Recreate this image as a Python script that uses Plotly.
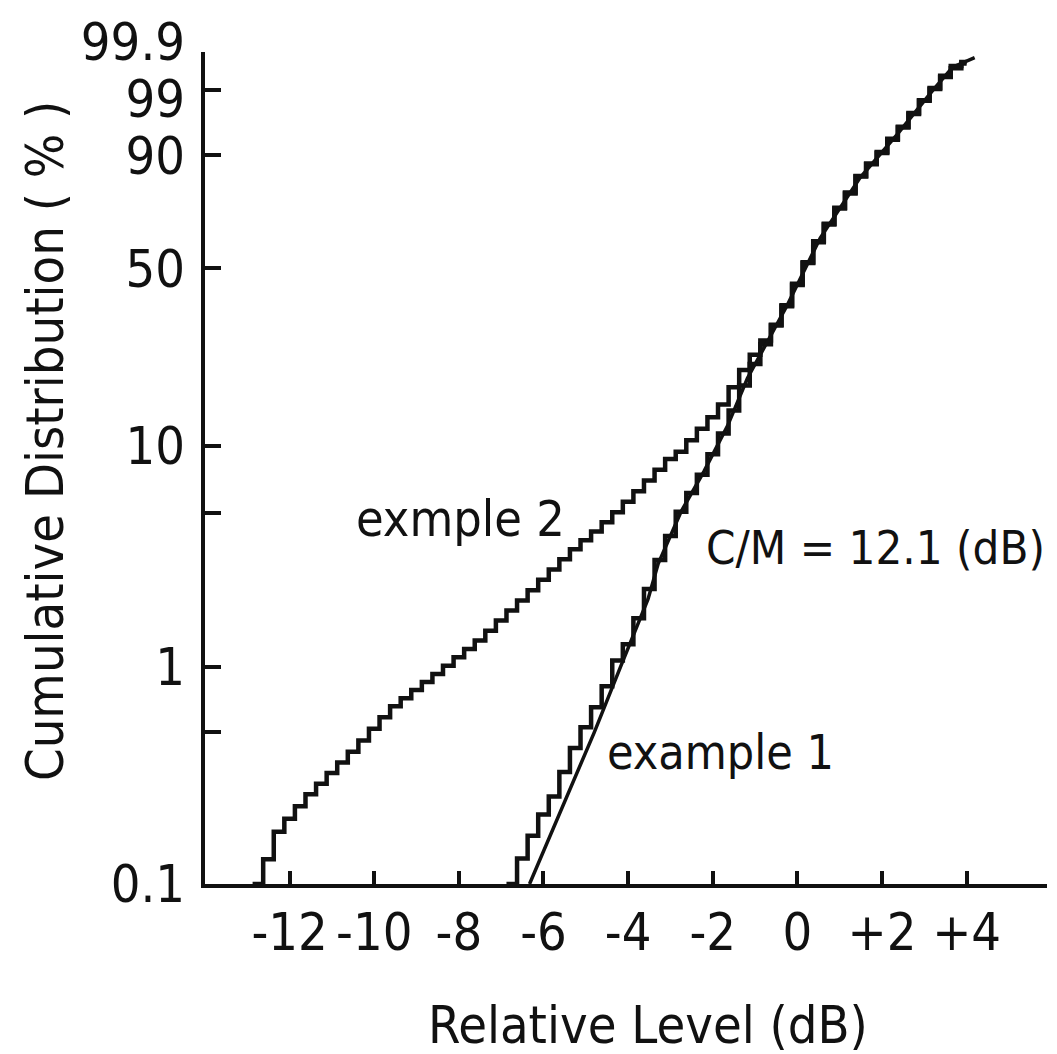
import numpy as np
import plotly.graph_objects as go

# ---------------- data ----------------
x_tick_db = [-12, -10, -8, -6, -4, -2, 0, 2, 4]
x_tick_text = ["-12", "-10", "-8", "-6", "-4", "-2", "0", "+2", "+4"]
y_tick_pct = [0.5, 1, 5, 10, 50, 90, 99, 99.9]
y_label_pct = [0.1, 1, 10, 50, 90, 99, 99.9]
y_label_text = ["0.1", "1", "10", "50", "90", "99", "99.9"]

# example 1 : measured histogram steps (0.25 dB bins) - level where each step rises, cum. % after the rise
ex1_rise_db = [-6.625, -6.375, -6.125, -5.875, -5.625, -5.375, -5.125, -4.875, -4.625, -4.375,
               -4.125, -3.875, -3.625, -3.375, -3.125, -2.875, -2.625, -2.375, -2.125, -1.875,
               -1.625, -1.375, -1.125, -0.875, -0.625, -0.375, -0.125, 0.125, 0.375, 0.625,
               0.875, 1.125, 1.375, 1.625, 1.875, 2.125, 2.375, 2.625, 2.875, 3.125,
               3.375, 3.625, 3.875]
ex1_pct = [0.131, 0.167, 0.209, 0.253, 0.328, 0.423, 0.527, 0.652, 0.815, 1.07,
           1.27, 1.67, 2.27, 3.08, 3.96, 5.09, 6.17, 7.45, 9.17, 11.3,
           14.2, 18.1, 22.2, 26.6, 31.5, 37.1, 44.1, 52.0, 60.3, 66.9,
           73.0, 78.8, 84.1, 87.7, 90.8, 93.4, 95.6, 97.2, 98.36, 99.10,
           99.53, 99.74, 99.80]

# example 2 : measured histogram steps (0.25 dB bins)
ex2_rise_db = [-12.625, -12.375, -12.125, -11.875, -11.625, -11.375, -11.125, -10.875, -10.625, -10.375,
               -10.125, -9.875, -9.625, -9.375, -9.125, -8.875, -8.625, -8.375, -8.125, -7.875,
               -7.625, -7.375, -7.125, -6.875, -6.625, -6.375, -6.125, -5.875, -5.625, -5.375,
               -5.125, -4.875, -4.625, -4.375, -4.125, -3.875, -3.625, -3.375, -3.125, -2.875,
               -2.625, -2.375, -2.125, -1.875, -1.625, -1.375, -1.125, -0.875, -0.625, -0.375,
               -0.125, 0.125, 0.375, 0.625, 0.875, 1.125, 1.375, 1.625, 1.875, 2.125,
               2.375, 2.625, 2.875, 3.125, 3.375, 3.625, 3.875]
ex2_pct = [0.130, 0.174, 0.200, 0.228, 0.259, 0.290, 0.325, 0.363, 0.407, 0.459,
           0.519, 0.586, 0.660, 0.718, 0.782, 0.851, 0.927, 1.013, 1.108, 1.209,
           1.322, 1.465, 1.631, 1.812, 2.016, 2.244, 2.503, 2.785, 3.106, 3.447,
           3.782, 4.148, 4.559, 5.056, 5.643, 6.295, 7.019, 7.842, 8.736, 9.413,
           10.57, 11.85, 13.29, 15.07, 17.79, 20.98, 24.17, 27.54, 31.68, 37.4,
           44.5, 52.3, 60.0, 67.2, 73.3, 78.5, 84.3, 87.9, 90.6, 93.6,
           95.5, 97.3, 98.4, 99.05, 99.50, 99.70, 99.78]

# theoretical curve for C/M = 12.1 dB
theory_db = [-6.33, -5.34, -4.80, -4.17, -3.53, -3.29, -2.75, -2.21, -1.65, -1.18,
             -0.71, -0.24, 0.54, 1.48, 2.35, 3.20, 3.67, 4.19]
theory_pct = [0.10, 0.28, 0.50, 1.01, 2.04, 2.96, 5.09, 7.69, 12.2, 19.4,
              27.4, 37.4, 61.6, 83.7, 94.3, 98.99, 99.72, 99.85]

ex1_start_db, ex2_start_db, steps_end_db = -6.875, -12.875, 4.0
base_pct = 0.1


# ---------------- probability-paper scale (Rayleigh paper) ----------------
def paper(p):
    p = np.asarray(p, dtype=float) / 100.0
    return np.log10(-np.log(1.0 - p))


W, H = 1057, 1054
ML, MR, MT, MB = 205, 10, 20, 170
plot_w = W - ML - MR
plot_h = H - MT - MB
axis_top_px = 52          # 99.9 % line
axis_bot_px = H - MB      # 0.1 % line
y_lo, y_hi = float(paper(0.1)), float(paper(99.9))
dom_top = (axis_bot_px - axis_top_px) / plot_h
scale = (axis_bot_px - axis_top_px) / (y_hi - y_lo)     # px per unit
y2_hi = y_lo + plot_h / scale

FONT = "Liberation Sans Narrow, DejaVu Sans Condensed, DejaVu Sans Mono, sans-serif"
FS = 52
INK = "#111111"


def px_x(px):
    return (px - ML) / plot_w


def px_y(py):
    return (axis_bot_px - py) / plot_h


fig = go.Figure()

# example 2 steps
fig.add_trace(go.Scatter(
    x=[ex2_start_db] + ex2_rise_db + [steps_end_db],
    y=paper([base_pct] + ex2_pct + [ex2_pct[-1]]),
    mode="lines", line=dict(color=INK, width=4.5, shape="hv"),
    name="exmple 2", hoverinfo="skip"))

# example 1 steps
fig.add_trace(go.Scatter(
    x=[ex1_start_db] + ex1_rise_db + [steps_end_db],
    y=paper([base_pct] + ex1_pct + [ex1_pct[-1]]),
    mode="lines", line=dict(color=INK, width=4.5, shape="hv"),
    name="example 1", hoverinfo="skip"))

# theoretical curve
fig.add_trace(go.Scatter(
    x=theory_db, y=paper(theory_pct),
    mode="lines", line=dict(color=INK, width=3.5),
    name="C/M = 12.1 dB", hoverinfo="skip"))

# helper trace so the label axis exists
fig.add_trace(go.Scatter(x=[-14], y=[y_lo], yaxis="y2", mode="lines",
                         line=dict(width=0), hoverinfo="skip", showlegend=False))

# label positions (two top labels moved apart like in the original)
label_nudge_px = {99.9: -10, 99: 9}
label_vals = [float(paper(p)) - label_nudge_px.get(p, 0) / scale for p in y_label_pct]

fig.update_layout(
    width=W, height=H,
    margin=dict(l=ML, r=MR, t=MT, b=MB),
    paper_bgcolor="white", plot_bgcolor="rgba(0,0,0,0)",
    showlegend=False,
    font=dict(family=FONT, size=FS, color=INK),
    xaxis=dict(
        range=[-14, 5.9], showgrid=False, zeroline=False,
        showline=True, linecolor=INK, linewidth=4,
        ticks="inside", ticklen=13, tickwidth=3.5, tickcolor=INK,
        tickvals=x_tick_db, ticktext=x_tick_text, tickangle=0,
        ticklabelstandoff=0,
        tickfont=dict(family=FONT, size=FS, color=INK),
    ),
    yaxis=dict(
        domain=[0, dom_top], range=[y_lo, y_hi],
        showgrid=False, zeroline=False,
        showline=True, linecolor=INK, linewidth=4,
        ticks="inside", ticklen=16, tickwidth=3.5, tickcolor=INK,
        tickvals=[float(v) for v in paper(y_tick_pct)],
        showticklabels=False,
    ),
    yaxis2=dict(
        domain=[0, 1], range=[y_lo, y2_hi], anchor="free", position=0, side="left",
        showgrid=False, zeroline=False, showline=False, ticks="",
        tickvals=label_vals, ticktext=y_label_text, tickangle=0,
        ticklabelstandoff=20,
        tickfont=dict(family=FONT, size=FS, color=INK),
    ),
    annotations=[
        dict(text="Cumulative Distribution ( % )", textangle=-90,
             x=px_x(45), y=px_y(441), xref="paper", yref="paper",
             xanchor="center", yanchor="middle", showarrow=False,
             font=dict(family=FONT, size=FS, color=INK)),
        dict(text="Relative Level (dB)",
             x=px_x(648), y=px_y(1025), xref="paper", yref="paper",
             xanchor="center", yanchor="middle", showarrow=False,
             font=dict(family=FONT, size=FS, color=INK)),
        dict(text="exmple 2",
             x=px_x(460), y=px_y(519), xref="paper", yref="paper",
             xanchor="center", yanchor="middle", showarrow=False,
             font=dict(family=FONT, size=FS - 2, color=INK)),
        dict(text="C/M = 12.1 (dB)",
             x=px_x(704), y=px_y(547), xref="paper", yref="paper",
             xanchor="left", yanchor="middle", showarrow=False,
             font=dict(family=FONT, size=FS - 5, color=INK)),
        dict(text="example 1",
             x=px_x(605), y=px_y(752), xref="paper", yref="paper",
             xanchor="left", yanchor="middle", showarrow=False,
             font=dict(family=FONT, size=FS - 4, color=INK)),
    ],
)

fig.write_html("out.html")
